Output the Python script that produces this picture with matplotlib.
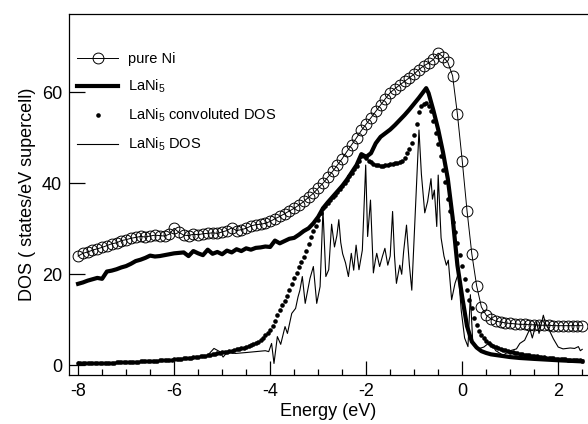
import numpy as np
import matplotlib
matplotlib.use("Agg")
import matplotlib.pyplot as plt

plt.rcParams["font.family"] = ["Liberation Sans", "DejaVu Sans"]
plt.rcParams["mathtext.default"] = "regular"
plt.rcParams["axes.unicode_minus"] = False

# pure Ni, every 0.1 eV from -8.0 to 2.5
ni_dos = [24.0, 24.6, 24.9, 25.3, 25.6, 25.9, 26.3, 26.7, 26.9, 27.4,
          27.6, 27.9, 28.1, 28.3, 28.2, 28.4, 28.6, 28.5, 28.4, 28.8,
          30.1, 29.2, 28.6, 28.5, 28.8, 28.7, 28.9, 29.0, 29.1, 29.0,
          29.3, 29.6, 30.2, 29.6, 29.8, 30.1, 30.6, 30.9, 31.0, 31.2,
          31.6, 32.2, 32.7, 33.3, 33.9, 34.5, 35.2, 36.0, 36.9, 37.8,
          38.9, 40.0, 41.3, 42.6, 44.0, 45.4, 47.0, 48.5, 50.0, 51.6,
          53.0, 54.4, 55.8, 57.2, 58.6, 59.9, 60.8, 61.6, 62.4, 63.2,
          64.0, 65.0, 65.8, 66.4, 67.2, 68.6, 67.8, 66.6, 63.6, 55.2,
          45.0, 34.0, 24.5, 17.5, 12.8, 11.0, 10.2, 9.7, 9.5, 9.3,
          9.2, 9.1, 9.0, 9.0, 8.9, 8.9, 8.8, 8.8, 8.8, 8.7,
          8.7, 8.7, 8.7, 8.7, 8.7, 8.7]
ni_e = -8.0 + 0.1 * np.arange(len(ni_dos))

# LaNi5 (thick line)
lani5_e = [-8.0, -7.9, -7.8, -7.7, -7.6, -7.5, -7.4, -7.3, -7.2, -7.1,
           -7.0, -6.9, -6.8, -6.7, -6.6, -6.5, -6.4, -6.3, -6.2, -6.1,
           -6.0, -5.9, -5.8, -5.7, -5.6, -5.5, -5.4, -5.3, -5.2, -5.1,
           -5.0, -4.9, -4.8, -4.7, -4.6, -4.5, -4.4, -4.3, -4.2, -4.1,
           -4.0, -3.9, -3.8, -3.7, -3.6, -3.5, -3.4, -3.3, -3.2, -3.1,
           -3.0, -2.9, -2.8, -2.7, -2.6, -2.5, -2.4, -2.3, -2.2, -2.1,
           -2.0, -1.9, -1.8, -1.7, -1.6, -1.5, -1.4, -1.3, -1.2, -1.1,
           -1.0, -0.9, -0.8,
           -0.75, -0.7, -0.6, -0.5, -0.4, -0.3, -0.2, -0.1, 0.0, 0.1,
           0.2, 0.3, 0.4, 0.5, 0.6,
           0.8, 1.0, 1.2, 1.5, 2.0, 2.5]
lani5_dos = [17.9, 18.2, 18.6, 18.9, 19.2, 19.0, 20.6, 20.8, 21.1, 21.5,
             21.8, 22.3, 22.9, 23.2, 23.6, 24.1, 23.9, 24.0, 24.2, 24.4,
             24.6, 24.7, 24.8, 24.0, 25.1, 24.6, 24.2, 25.4, 24.5, 24.9,
             24.4, 25.2, 24.8, 25.5, 25.1, 25.7, 25.4, 25.8, 25.9, 26.1,
             26.0, 27.4, 26.8, 27.3, 27.8, 28.0, 28.7, 29.5, 30.1, 31.2,
             32.6, 34.5, 35.8, 37.0, 38.2, 39.4, 40.8, 42.4, 44.0, 46.4,
             45.8, 46.6, 48.8, 50.2, 51.0, 51.8, 52.8, 53.9, 55.0, 56.2,
             57.5, 58.8, 60.2,
             60.9, 59.8, 56.0, 51.8, 46.8, 41.0, 32.5, 22.0, 15.0, 8.6,
             5.2, 3.9, 3.1, 2.7, 2.4,
             2.1, 1.8, 1.6, 1.4, 1.1, 0.85]

# LaNi5 convoluted DOS, every 0.05 eV from -8.0 to 2.5
conv_dos = [0.40, 0.41, 0.42, 0.43, 0.44, 0.45, 0.46, 0.47, 0.48, 0.50,
            0.51, 0.53, 0.54, 0.56, 0.58, 0.60, 0.62, 0.64, 0.66, 0.68,
            0.70, 0.72, 0.74, 0.76, 0.78, 0.81, 0.84, 0.86, 0.89, 0.92,
            0.95, 0.98, 1.01, 1.04, 1.07, 1.10, 1.14, 1.17, 1.21, 1.25,
            1.30, 1.35, 1.40, 1.45, 1.50, 1.56, 1.62, 1.68, 1.74, 1.81,
            1.88, 1.95, 2.03, 2.11, 2.20, 2.29, 2.38, 2.48, 2.59, 2.70,
            2.82, 2.92, 3.02, 3.13, 3.24, 3.36, 3.48, 3.61, 3.75, 3.90,
            4.05, 4.21, 4.38, 4.57, 4.80, 5.15, 5.55, 6.00, 6.55, 7.15,
            7.8, 8.7, 9.8, 11.0, 12.2, 13.2, 14.2, 15.3, 16.5, 17.8,
            19.1, 20.3, 21.5, 22.7, 23.9, 25.1, 26.6, 28.1, 29.5, 30.7,
            32.0, 33.4, 34.5, 35.1, 35.7, 36.3, 36.9, 37.5, 38.1, 38.7,
            39.3, 40.0, 40.7, 41.5, 42.3, 43.1, 43.9, 45.0, 46.0, 46.0,
            45.5, 45.0, 44.6, 44.3, 44.1, 44.0, 43.9, 43.9, 44.0, 44.1,
            44.2, 44.3, 44.4, 44.5, 44.7, 45.0, 45.5, 46.6, 47.6, 48.9,
            50.6, 53.0, 55.6, 57.0, 57.5, 57.6, 57.0, 55.8, 53.6, 51.0,
            48.6, 46.0, 43.0, 40.2, 36.6, 33.8, 31.5, 29.3, 26.8, 24.3,
            21.8, 19.0, 16.6, 14.4, 12.5, 10.4, 8.9, 7.6, 6.6, 5.9,
            5.4, 4.9, 4.5, 4.2, 4.0, 3.8, 3.6, 3.45, 3.3, 3.15,
            3.0, 2.9, 2.75, 2.6, 2.5, 2.4, 2.3, 2.2, 2.15, 2.05,
            2.0, 1.93, 1.87, 1.8, 1.74, 1.68, 1.62, 1.57, 1.51, 1.46,
            1.42, 1.38, 1.34, 1.30, 1.26, 1.22, 1.18, 1.14, 1.10, 1.06, 1.02]
conv_e = -8.0 + 0.05 * np.arange(len(conv_dos))

# LaNi5 DOS (thin line)
dos_e = [-8.00, -7.50, -7.00, -6.50, -6.00, -5.60, -5.30, -5.17, -5.05, -4.98,
         -4.90, -4.72, -4.50, -4.30, -4.10, -4.03, -3.97, -3.92, -3.85, -3.78,
         -3.69, -3.64, -3.55, -3.47, -3.42, -3.38, -3.33, -3.27, -3.17, -3.10,
         -3.03, -2.96, -2.90, -2.84, -2.78, -2.72, -2.66, -2.61, -2.57, -2.53,
         -2.49, -2.43, -2.37, -2.31, -2.26, -2.21, -2.15, -2.08, -2.01, -1.97,
         -1.91, -1.85, -1.81, -1.78, -1.72, -1.66, -1.61, -1.55, -1.50, -1.45,
         -1.41, -1.37, -1.30, -1.26, -1.22, -1.16, -1.10, -1.05, -0.95, -0.90,
         -0.85, -0.78, -0.72, -0.65, -0.62, -0.58, -0.53, -0.50, -0.44, -0.38,
         -0.33, -0.29, -0.22, -0.15, -0.08, -0.02, 0.05, 0.12, 0.17, 0.22,
         0.33, 0.45, 0.58, 0.70, 0.85, 1.00, 1.13, 1.20, 1.30, 1.41,
         1.46, 1.55, 1.60, 1.69, 1.74, 1.80, 1.90, 2.00, 2.10, 2.25,
         2.34, 2.42, 2.46, 2.50]
dos_v = [0.3, 0.5, 0.7, 0.9, 1.2, 1.7, 2.2, 3.7, 3.0, 1.8,
         2.8, 2.6, 2.8, 3.0, 3.2, 3.0, 4.8, 0.4, 6.3, 4.6,
         8.5, 7.0, 11.4, 12.5, 15.0, 16.5, 19.5, 13.6, 19.1, 21.7,
         13.6, 17.3, 34.1, 19.5, 21.0, 31.0, 26.0, 28.5, 32.0, 27.0,
         24.5, 22.5, 19.5, 24.6, 20.9, 26.4, 21.0, 25.3, 44.0, 28.3,
         36.3, 20.3, 23.0, 24.6, 21.7, 24.0, 25.7, 22.0, 24.0, 33.8,
         24.0, 18.0, 22.0, 20.0, 25.0, 30.8, 22.0, 16.5, 40.0, 51.7,
         42.0, 33.5, 36.0, 41.0, 36.5, 38.5, 30.5, 41.8, 28.0, 24.0,
         22.0, 23.1, 14.4, 18.0, 20.2, 12.0, 6.0, 4.1, 15.5, 5.0,
         3.6, 4.0, 5.1, 3.2, 2.2, 3.2, 3.6, 4.8, 5.5, 8.0,
         6.0, 9.5, 7.0, 11.0, 9.0, 8.0, 5.8, 4.0, 3.6, 3.8,
         3.7, 4.1, 3.2, 3.5]

fig = plt.figure(figsize=(5.88, 4.24), dpi=100)
ax = fig.add_axes([0.1173, 0.1163, 0.8827, 0.8507])

ax.plot(ni_e, ni_dos, color="black", lw=0.7, marker="o", ms=7.8,
        mfc="none", mew=0.7, label="pure Ni")
ax.plot(lani5_e, lani5_dos, color="black", lw=3.0, label="LaNi$_5$")
ax.plot(conv_e, conv_dos, color="black", ls="none", marker="o", ms=3.3,
        mew=0, label="LaNi$_5$ convoluted DOS")
ax.plot(dos_e, dos_v, color="black", lw=0.8, label="LaNi$_5$ DOS")

ax.set_xlim(-8.19, 2.62)
ax.set_ylim(-2.07, 77.2)
ax.set_xticks([-8, -6, -4, -2, 0, 2])
ax.set_xticks(np.arange(-8, 2.6, 0.5), minor=True)
ax.set_yticks([0, 20, 40, 60])
ax.tick_params(axis="x", which="major", direction="in", length=10, width=0.9,
               labelsize=13, pad=6)
ax.tick_params(axis="x", which="minor", direction="in", length=4.3, width=0.9)
ax.tick_params(axis="y", direction="in", length=11.5, width=0.9,
               labelsize=13, pad=5)
ax.spines["right"].set_visible(False)
for s in ["left", "bottom", "top"]:
    ax.spines[s].set_linewidth(0.9)

ax.set_xlabel("Energy (eV)", fontsize=13, labelpad=2)
ax.set_ylabel("DOS ( states/eV supercell)", fontsize=13, labelpad=4)

ax.legend(loc="upper left", bbox_to_anchor=(0.005, 0.91), frameon=False,
          fontsize=10.5, handlelength=2.8, handletextpad=0.7,
          labelspacing=0.8, borderaxespad=0, numpoints=1)

fig.savefig("out.png", dpi=100)
